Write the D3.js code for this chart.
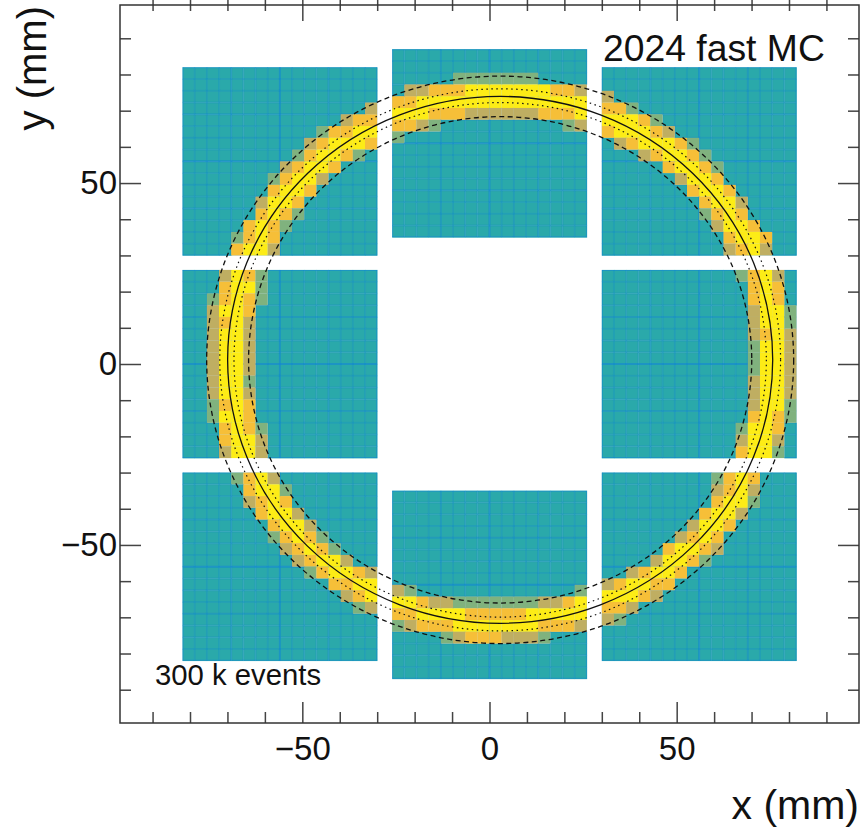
<!DOCTYPE html>
<html lang="en">
<head>
  <meta charset="UTF-8">
  <title>2024 fast MC</title>
  <style>
    body { margin: 0; background: #fff; }
    text { font-family: "Liberation Sans", Arial, sans-serif; fill: #111; }
  </style>
</head>
<body>
  <script src="https://cdn.jsdelivr.net/npm/d3@7"></script>
  <script>
  // hit level per pixel, rows top to bottom
  var topLeft = [
    "0000000000000000", "0000000000000000", "0000000000000000", "0000000000000002",
    "0000000000000233", "0000000000013344", "0000000000234443", "0000000001344310",
    "0000000023443000", "0000000134420000", "0000000344300000", "0000002443000000",
    "0000003431000000", "0000034310000000", "0000134300000000", "0000344200000000"
  ];
  var topCentre = [
    "0000000000000000", "0000000000000000", "0000011111110000", "0223334444444332",
    "3344444444444444", "4443332222223334", "3321000000000012", "1000000000000000",
    "0000000000000000", "0000000000000000", "0000000000000000", "0000000000000000",
    "0000000000000000", "0000000000000000", "0000000000000000", "0000000000000000"
  ];
  var topRight = [
    "0000000000000000", "0000000000000000", "2000000000000000", "3310000000000000",
    "4443100000000000", "3444320000000000", "0234443100000000", "0002344310000000",
    "0000034431000000", "0000002443000000", "0000000344300000", "0000000034420000",
    "0000000013430000", "0000000002443000", "0000000000344300", "0000000000234200"
  ];
  var midLeft = [
    "0002431000000000", "0003441000000000", "0013431000000000", "0024430000000000",
    "0023420000000000", "0024420000000000", "0024420000000000", "0024420000000000",
    "0024420000000000", "0024410000000000", "0024420000000000", "0013430000000000",
    "0014430000000000", "0003431000000000", "0003442000000000", "0002442000000000"
  ];
  var midRight = [
    "0000000000013420", "0000000000003430", "0000000000003430", "0000000000002441",
    "0000000000002441", "0000000000002342", "0000000000001442", "0000000000001442",
    "0000000000001442", "0000000000002442", "0000000000002442", "0000000000002441",
    "0000000000003431", "0000000000014430", "0000000000024420", "0000000000034410"
  ];
  var botLeft = [
    "0000134200000000", "0000034410000000", "0000023430000000", "0000003442000000",
    "0000000344200000", "0000000134310000", "0000000023431000", "0000000002344200",
    "0000000000134432", "0000000000003344", "0000000000000234", "0000000000000012",
    "0000000000000000", "0000000000000000", "0000000000000000", "0000000000000000"
  ];
  var botCentre = [
    "0000000000000000", "0000000000000000", "0000000000000000", "0000000000000000",
    "0000000000000000", "0000000000000000", "0000000000000000", "0000000000000000",
    "2100000000000001", "4432211111112234", "3344443333344444", "1233344444443332",
    "0000123332221000", "0000000000000000", "0000000000000000", "0000000000000000"
  ];
  var botRight = [
    "0000000001343000", "0000000002342000", "0000000003441000", "0000000034420000",
    "0000000244300000", "0000002343000000", "0000034432000000", "0000244310000000",
    "0023443000000000", "2344330000000000", "4443200000000000", "3320000000000000",
    "2100000000000000", "0000000000000000", "0000000000000000", "0000000000000000"
  ];

  var panelMaps = [topLeft, topCentre, topRight, midLeft, midRight, botLeft, botCentre, botRight];
  // lower left corner of each panel in mm
  var panelX = [-82, -26, 30, -82, 30, -82, -26, 30];
  var panelY = [30, 35, 30, -26, -26, -82, -87, -82];
  var panelSize = 52;
  var pixelsPerSide = 16;

  var levels = [0, 1, 2, 3, 4];
  var levelColors = ['#2ca9aa', '#80b27e', '#bfae62', '#f6bf37', '#fdec12'];

  // how dark the pixel borders look, from the panel edge to the other edge
  var gridDepth = [0.9, 0.4, 0.45, 0.4, 0.65, 0.4, 0.5, 0.4, 1, 0.4, 0.5, 0.4, 0.65, 0.45, 0.4, 0.4, 0.9];

  var ringCentre = [2.85, 1.15];
  var ringSolid = [72.8];
  var ringDotted = [71.1, 74.9];
  var ringDashed = [67.2, 78.4];

  var xMajor = [-50, 0, 50];
  var xMinor = [-90, -80, -70, -60, -40, -30, -20, -10, 10, 20, 30, 40, 60, 70, 80, 90];

  var w = 861, h = 829;
  var x = d3.scaleLinear().domain([-98.7, 98.7]).range([120, 859]);
  var y = d3.scaleLinear().domain([-99.2, 99.2]).range([723, 5]);
  var color = d3.scaleOrdinal().domain(levels).range(levelColors);

  var svg = d3.select('body').append('svg').attr('width', w).attr('height', h);
  var defs = svg.append('defs');

  var blur = defs.append('filter').attr('id', 'soft')
    .attr('x', '-2%').attr('y', '-2%').attr('width', '104%').attr('height', '104%');
  blur.append('feGaussianBlur').attr('stdDeviation', 0.5);

  var pitch = panelSize / pixelsPerSide;
  var cells = [];
  panelMaps.forEach(function (rows, p) {
    rows.forEach(function (row, r) {
      row.split('').forEach(function (v, c) {
        cells.push({ p: p, r: r, c: c, v: +v });
      });
    });
  });

  var heat = svg.append('g').attr('filter', 'url(#soft)');
  heat.selectAll('rect.cell')
    .data(cells.filter(function (d) { return d.v === 0; }))
    .enter()
    .append('rect')
    .attr('class', 'cell')
    .attr('x', function (d) { return x(panelX[d.p] + d.c * pitch); })
    .attr('y', function (d) { return y(panelY[d.p] + panelSize - d.r * pitch); })
    .attr('width', x(pitch) - x(0) + 0.3)
    .attr('height', y(0) - y(pitch) + 0.3)
    .attr('fill', color(0));

  // pixel borders, clipped to the panel, the ring pixels go over them afterwards
  panelX.forEach(function (px, p) {
    var py = panelY[p];
    defs.append('clipPath').attr('id', 'panel' + p).append('rect')
      .attr('x', x(px)).attr('y', y(py + panelSize))
      .attr('width', x(panelSize) - x(0)).attr('height', y(0) - y(panelSize));
    var g = heat.append('g').attr('clip-path', 'url(#panel' + p + ')');
    g.selectAll('line.v').data(gridDepth).enter().append('line').attr('class', 'v')
      .attr('x1', function (d, i) { return x(px + i * pitch); })
      .attr('x2', function (d, i) { return x(px + i * pitch); })
      .attr('y1', y(py)).attr('y2', y(py + panelSize));
    g.selectAll('line.h').data(gridDepth).enter().append('line').attr('class', 'h')
      .attr('y1', function (d, i) { return y(py + i * pitch); })
      .attr('y2', function (d, i) { return y(py + i * pitch); })
      .attr('x1', x(px)).attr('x2', x(px + panelSize));
    g.selectAll('line')
      .attr('stroke', '#0f84d8')
      .attr('stroke-width', 2)
      .attr('stroke-opacity', function (d) { return d * 0.55; });
  });

  heat.selectAll('rect.hot')
    .data(cells.filter(function (d) { return d.v > 0; }))
    .enter()
    .append('rect')
    .attr('class', 'hot')
    .attr('x', function (d) { return x(panelX[d.p] + d.c * pitch); })
    .attr('y', function (d) { return y(panelY[d.p] + panelSize - d.r * pitch); })
    .attr('width', x(pitch) - x(0))
    .attr('height', y(0) - y(pitch))
    .attr('fill', function (d) { return color(d.v); });

  var rings = svg.append('g').attr('fill', 'none').attr('stroke', '#111');
  function drawRings(radii, width, dash) {
    rings.selectAll(null)
      .data(radii)
      .enter()
      .append('ellipse')
      .attr('cx', x(ringCentre[0]))
      .attr('cy', y(ringCentre[1]))
      .attr('rx', function (d) { return x(d) - x(0); })
      .attr('ry', function (d) { return y(0) - y(d); })
      .attr('stroke-width', width)
      .attr('stroke-dasharray', dash);
  }
  drawRings(ringSolid, 1.3, null);
  drawRings(ringDotted, 1.2, '1.5 3.5');
  drawRings(ringDashed, 1.3, '5 3.5');

  // ticks on all four sides, no labels on the minor ones
  function ticks(axisFn, scale, vals, size, translate) {
    var g = svg.append('g')
      .attr('transform', translate)
      .call(axisFn(scale).tickValues(vals).tickSize(size).tickSizeOuter(0).tickFormat(''));
    g.select('.domain').remove();
    g.selectAll('line').attr('stroke', '#444').attr('stroke-width', 1.5);
  }
  var bottom = 'translate(0,723)', top = 'translate(0,5)', left = 'translate(120,0)', right = 'translate(859,0)';
  ticks(d3.axisBottom, x, xMinor, -11, bottom);
  ticks(d3.axisBottom, x, xMajor, -21, bottom);
  ticks(d3.axisTop, x, xMinor, -11, top);
  ticks(d3.axisTop, x, xMajor, -21, top);
  ticks(d3.axisLeft, y, xMinor, -11, left);
  ticks(d3.axisLeft, y, xMajor, -21, left);
  ticks(d3.axisRight, y, xMinor, -11, right);
  ticks(d3.axisRight, y, xMajor, -21, right);

  svg.append('rect')
    .attr('x', 120).attr('y', 5).attr('width', 739).attr('height', 718)
    .attr('fill', 'none').attr('stroke', '#333').attr('stroke-width', 1.5);

  var xLabels = svg.append('g').attr('transform', bottom)
    .call(d3.axisBottom(x).tickValues(xMajor).tickSize(0).tickPadding(14));
  xLabels.select('.domain').remove();
  xLabels.selectAll('text').style('font-size', '33px').style('font-family', '"Liberation Sans"');

  var yLabels = svg.append('g').attr('transform', left)
    .call(d3.axisLeft(y).tickValues(xMajor).tickSize(0).tickPadding(3));
  yLabels.select('.domain').remove();
  yLabels.selectAll('text').style('font-size', '33px').style('font-family', '"Liberation Sans"');

  svg.append('text').attr('x', 859).attr('y', 819).attr('text-anchor', 'end')
    .style('font-size', '41px').text('x (mm)');
  svg.append('text').attr('transform', 'translate(46,6) rotate(-90)').attr('text-anchor', 'end')
    .style('font-size', '40px').text('y (mm)');
  svg.append('text').attr('x', 603).attr('y', 61)
    .style('font-size', '37.3px').text('2024 fast MC');
  svg.append('text').attr('x', 155).attr('y', 685)
    .style('font-size', '29.3px').text('300 k events');
  </script>
</body>
</html>
